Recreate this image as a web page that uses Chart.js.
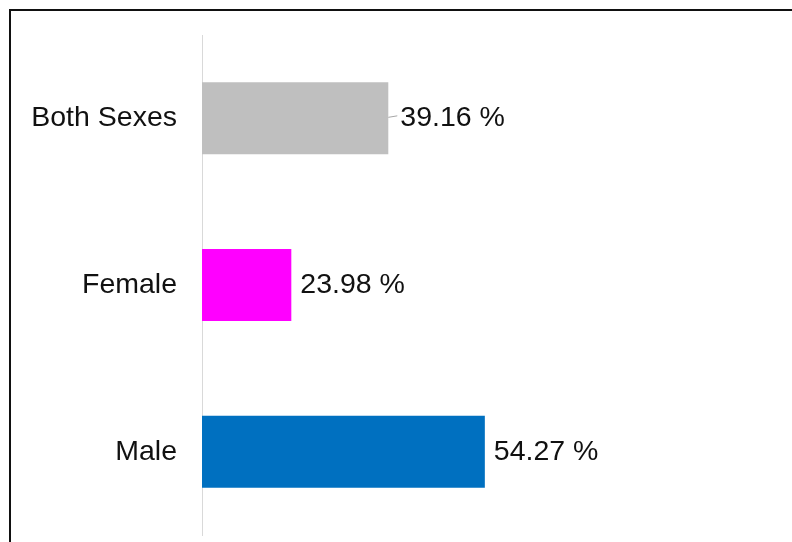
<!DOCTYPE html>
<html>
<head>
<meta charset="utf-8">
<script src="https://cdn.jsdelivr.net/npm/chart.js@4/dist/chart.umd.min.js"></script>
<style>
    html, body { margin: 0; padding: 0; background: #fff; overflow: hidden; }
    #wrap { position: relative; width: 792px; height: 542px; }
    #frame {
        position: absolute; left: 9px; top: 9px;
        width: 900px; height: 700px;
        border: 2px solid #111;
        box-sizing: border-box;
    }
    #chart { position: absolute; left: 0; top: 0; }
</style>
</head>
<body>
<div id="wrap">
    <div id="frame"></div>
    <canvas id="chart" width="792" height="542"></canvas>
</div>
<script>
// Share of population by sex (%)
const categories = ['Both Sexes', 'Female', 'Male'];
const shareValues = [39.16, 23.98, 54.27];
const barColors = ['#bfbfbf', '#ff00ff', '#0070c0'];

const textFont = '"Liberation Sans", Arial, sans-serif';

// Writes "xx.xx %" to the right of each bar
const valueLabels = {
    id: 'valueLabels',
    afterDatasetsDraw(chart) {
        const ctx = chart.ctx;
        const meta = chart.getDatasetMeta(0);
        ctx.save();
        ctx.font = '28.5px ' + textFont;
        ctx.fillStyle = '#111';
        ctx.textBaseline = 'middle';
        ctx.textAlign = 'left';
        meta.data.forEach((bar, i) => {
            let gap = 9;
            if (i === 0) {
                // small leader line on the first label
                ctx.strokeStyle = '#a6a6a6';
                ctx.lineWidth = 1;
                ctx.beginPath();
                ctx.moveTo(bar.x, bar.y - 1);
                ctx.lineTo(bar.x + 9, bar.y - 2.5);
                ctx.stroke();
                gap = 12;
            }
            ctx.fillText(shareValues[i].toFixed(2) + ' %', bar.x + gap, bar.y);
        });
        ctx.restore();
    }
};

new Chart(document.getElementById('chart'), {
    type: 'bar',
    data: {
        labels: categories,
        datasets: [{
            data: shareValues,
            backgroundColor: barColors,
            borderWidth: 0,
            categoryPercentage: 1,
            barPercentage: 0.432
        }]
    },
    options: {
        indexAxis: 'y',
        responsive: false,
        animation: false,
        layout: {
            padding: { left: 0, top: 35, right: 15, bottom: 7 }
        },
        plugins: {
            legend: { display: false },
            tooltip: { enabled: false }
        },
        scales: {
            x: {
                display: false,
                min: 10,
                max: 100
            },
            y: {
                afterFit(scale) {
                    scale.width = 202;
                    // labels sit beside the bars, no extra room needed above/below
                    scale.paddingTop = 0;
                    scale.paddingBottom = 0;
                },
                grid: { display: false, drawTicks: false },
                border: { display: true, color: '#d9d9d9', width: 1 },
                ticks: {
                    color: '#111',
                    padding: 25,
                    font: { family: textFont, size: 28.5 }
                }
            }
        }
    },
    plugins: [valueLabels]
});
</script>
</body>
</html>
